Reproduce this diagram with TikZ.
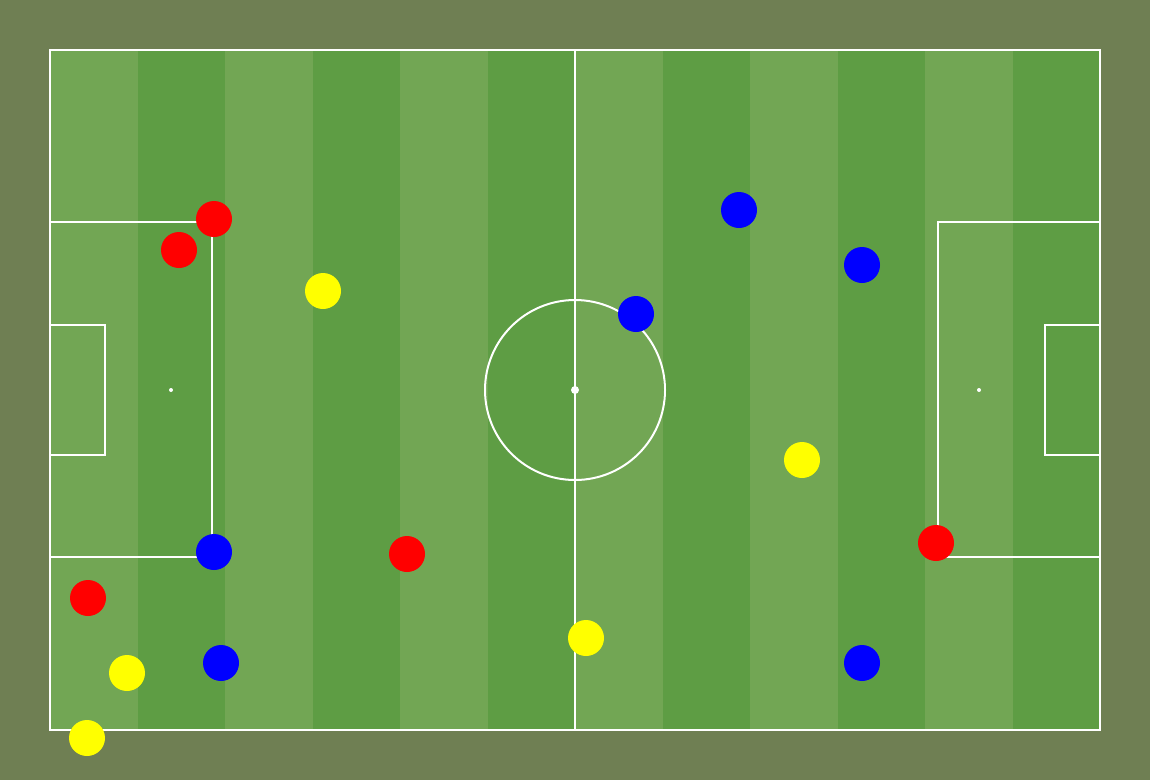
\documentclass[tikz,border=0pt]{standalone}
\definecolor{bgolive}{HTML}{6F7F53}
\definecolor{stripelight}{HTML}{72A654}
\definecolor{stripedark}{HTML}{5E9D44}
\definecolor{pred}{HTML}{FF0000}
\definecolor{pyellow}{HTML}{FFFF00}
\definecolor{pblue}{HTML}{0000FF}
\tikzset{
  pline/.style={draw=white, line width=2pt},
  player/.style={circle, minimum size=36pt, inner sep=0pt, draw=none},
  redp/.style={player, fill=pred},
  yellowp/.style={player, fill=pyellow},
  bluep/.style={player, fill=pblue},
}
\begin{document}
\begin{tikzpicture}[x=1pt,y=-1pt]
\fill[bgolive] (0,0) rectangle (1150,780);
\useasboundingbox (0,0) rectangle (1150,780);
% stripes
\foreach \i in {0,...,11}{
  \pgfmathsetmacro{\xa}{50+87.5*\i}
  \pgfmathsetmacro{\xb}{50+87.5*(\i+1)}
  \ifodd\i
    \fill[stripedark] (\xa,50) rectangle (\xb,730);
  \else
    \fill[stripelight] (\xa,50) rectangle (\xb,730);
  \fi
}
% lines
\draw[pline] (50,50) rectangle (1100,730);
\draw[pline] (575,50) -- (575,730);
\draw[pline] (575,390) circle (90);
\fill[white] (575,390) circle (4);
% left boxes
\draw[pline] (50,222) -- (212,222) -- (212,557) -- (50,557);
\draw[pline] (50,325) -- (105,325) -- (105,455) -- (50,455);
\fill[white] (171,390) circle (2);
% right boxes
\draw[pline] (1100,222) -- (938,222) -- (938,557) -- (1100,557);
\draw[pline] (1100,325) -- (1045,325) -- (1045,455) -- (1100,455);
\fill[white] (979,390) circle (2);
% red players
\node[redp] (r1) at (214,219) {};
\node[redp] (r2) at (179,250) {};
\node[redp] (r3) at (88,598) {};
\node[redp] (r4) at (407,554) {};
\node[redp] (r5) at (936,543) {};
% yellow players
\node[yellowp] (y1) at (323,291) {};
\node[yellowp] (y2) at (127,673) {};
\node[yellowp] (y3) at (87,738) {};
\node[yellowp] (y4) at (802,460) {};
\node[yellowp] (y5) at (586,638) {};
% blue players
\node[bluep] (b1) at (739,210) {};
\node[bluep] (b2) at (862,265) {};
\node[bluep] (b3) at (636,314) {};
\node[bluep] (b4) at (214,552) {};
\node[bluep] (b5) at (221,663) {};
\node[bluep] (b6) at (862,663) {};
\end{tikzpicture}
\end{document}
